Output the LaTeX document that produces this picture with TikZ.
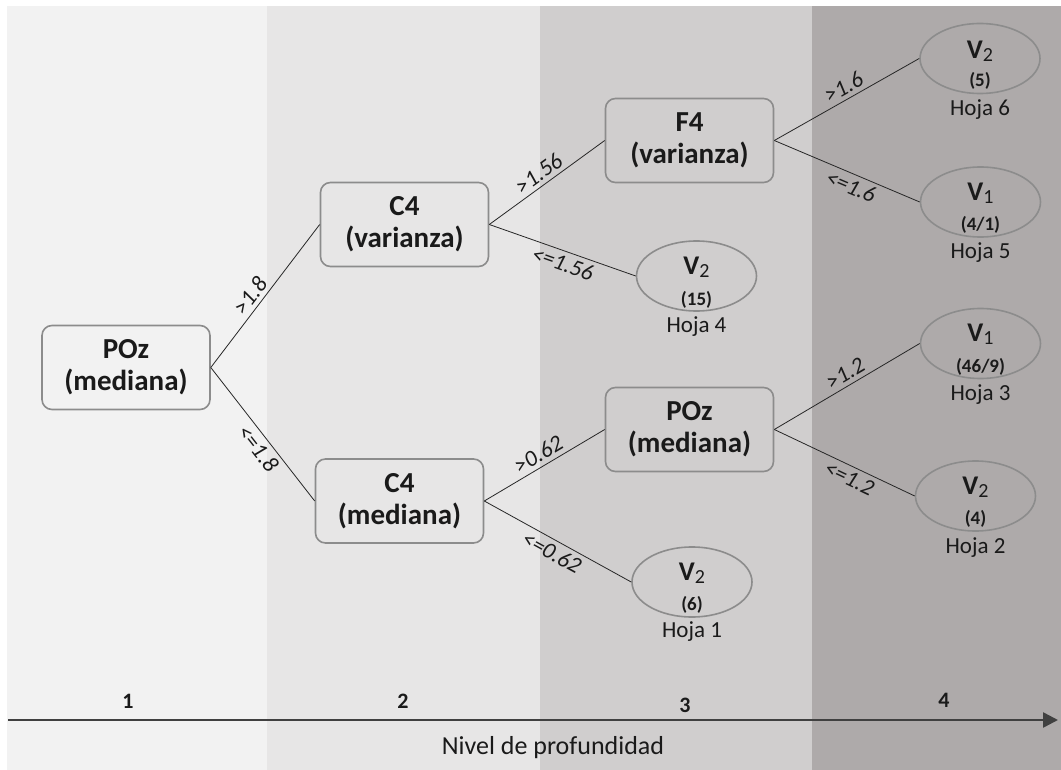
\documentclass[tikz,border=0pt]{standalone}
\usepackage{fontspec}
\setmainfont{Carlito}
\usetikzlibrary{arrows.meta,shapes.geometric}

\definecolor{bandA}{HTML}{F2F2F2}
\definecolor{bandB}{HTML}{E7E6E6}
\definecolor{bandC}{HTML}{D0CECE}
\definecolor{bandD}{HTML}{AEAAAA}
\definecolor{nodeline}{HTML}{8C8C8C}
\definecolor{axisgray}{HTML}{404040}
\definecolor{inkcol}{HTML}{1A1A1A}

\newcommand{\varname}[2]{{\fontsize{27}{27}\bfseries\selectfont #1}\raisebox{-0.3em}{\fontsize{20}{20}\selectfont #2}}

\begin{document}
\begin{tikzpicture}[x=1pt,y=-1pt,
  splitbox/.style={draw=nodeline, line width=1.6pt, rounded corners=10pt,
    minimum width=168pt, minimum height=84pt, inner sep=0pt, align=center,
    text=inkcol, font=\fontsize{29}{32}\bfseries\selectfont},
  leafshape/.style={ellipse, draw=nodeline, line width=1.6pt,
    minimum width=120pt, minimum height=70pt, inner sep=0pt},
  vartext/.style={inner sep=0pt, text=inkcol},
  counttext/.style={inner sep=0pt, text=inkcol, font=\fontsize{19}{19}\bfseries\selectfont},
  leaftag/.style={inner sep=0pt, text=inkcol, font=\fontsize{23}{23}\selectfont},
  branch/.style={draw=black!85, line width=0.8pt},
  cond/.style={sloped, inner sep=4pt, text=inkcol, font=\fontsize{23}{23}\itshape\selectfont},
  levelnum/.style={inner sep=0pt, text=inkcol, font=\fontsize{22}{22}\bfseries\selectfont},
  axisline/.style={draw=axisgray, line width=2.5pt, -{Triangle[length=15pt,width=15pt]}}
]

% page and depth bands
\fill[white] (0,0) rectangle (1061,770);
\fill[bandA] (7,6) rectangle (267,770);
\fill[bandB] (267,6) rectangle (540,770);
\fill[bandC] (540,6) rectangle (812,770);
\fill[bandD] (812,6) rectangle (1061,770);

% split nodes
\node[splitbox] (root) at (126,367.5) {POz\\(mediana)};
\node[splitbox] (c4v) at (404.5,224.5) {C4\\(varianza)};
\node[splitbox] (c4m) at (399.5,501) {C4\\(mediana)};
\node[splitbox] (f4v) at (689.5,140.5) {F4\\(varianza)};
\node[splitbox] (pozm) at (689.5,429.5) {POz\\(mediana)};

% leaves (shifts are in canvas units: positive is upwards)
\node[leafshape] (h6) at (980,58.5) {};
\node[vartext] (h6v) at ([yshift=7pt]h6.center) {\varname{V}{2}};
\node[counttext] (h6c) at ([yshift=-22pt]h6.center) {(5)};
\node[leaftag] (h6t) at ([yshift=-51pt]h6.center) {Hoja 6};

\node[leafshape] (h5) at (980.5,202) {};
\node[vartext] (h5v) at ([yshift=9pt]h5.center) {\varname{V}{1}};
\node[counttext] (h5c) at ([yshift=-23pt]h5.center) {(4/1)};
\node[leaftag] (h5t) at ([yshift=-51pt]h5.center) {Hoja 5};

\node[leafshape] (h4) at (696.5,276) {};
\node[vartext] (h4v) at ([yshift=9pt]h4.center) {\varname{V}{2}};
\node[counttext] (h4c) at ([yshift=-24pt]h4.center) {(15)};
\node[leaftag] (h4t) at ([yshift=-51pt]h4.center) {Hoja 4};

\node[leafshape] (h3) at (980.5,343.5) {};
\node[vartext] (h3v) at ([yshift=9pt]h3.center) {\varname{V}{1}};
\node[counttext] (h3c) at ([yshift=-23pt]h3.center) {(46/9)};
\node[leaftag] (h3t) at ([yshift=-51pt]h3.center) {Hoja 3};

\node[leafshape] (h2) at (975.5,496) {};
\node[vartext] (h2v) at ([yshift=9pt]h2.center) {\varname{V}{2}};
\node[counttext] (h2c) at ([yshift=-23pt]h2.center) {(4)};
\node[leaftag] (h2t) at ([yshift=-52pt]h2.center) {Hoja 2};

\node[leafshape] (h1) at (692,582) {};
\node[vartext] (h1v) at ([yshift=9pt]h1.center) {\varname{V}{2}};
\node[counttext] (h1c) at ([yshift=-23pt]h1.center) {(6)};
\node[leaftag] (h1t) at ([yshift=-50pt]h1.center) {Hoja 1};

% branches with split conditions
\draw[branch] (root.east) -- node[cond, above, pos=0.45] {>1.8} (c4v.west);
\draw[branch] (root.east) -- node[cond, below, pos=0.55] {<=1.8} (c4m.west);
\draw[branch] (c4v.east) -- node[cond, above, pos=0.49] {>1.56} (f4v.west);
\draw[branch] (c4v.east) -- node[cond, below, pos=0.53] {<=1.56} (h4.west);
\draw[branch] (f4v.east) -- node[cond, above, pos=0.52] {>1.6} (h6.west);
\draw[branch] (f4v.east) -- node[cond, below, pos=0.56] {<=1.6} (h5.west);
\draw[branch] (c4m.east) -- node[cond, above, pos=0.5] {>0.62} (pozm.west);
\draw[branch] (c4m.east) -- node[cond, below, pos=0.5] {<=0.62} (h1.west);
\draw[branch] (pozm.east) -- node[cond, above, pos=0.53] {>1.2} (h3.west);
\draw[branch] (pozm.east) -- node[cond, below, pos=0.57] {<=1.2} (h2.west);

% depth axis
\coordinate (axstart) at (8,720);
\coordinate (axend) at (1058,720);
\draw[axisline] (axstart) -- (axend);
\node[levelnum] (lv1) at (128,701) {1};
\node[levelnum] (lv2) at (403,701) {2};
\node[levelnum] (lv3) at (685,705) {3};
\node[levelnum] (lv4) at (944,700) {4};
\node[inner sep=0pt, text=inkcol, font=\fontsize{26}{26}\selectfont] (axtitle) at (553,748) {Nivel de profundidad};
\end{tikzpicture}
\end{document}
